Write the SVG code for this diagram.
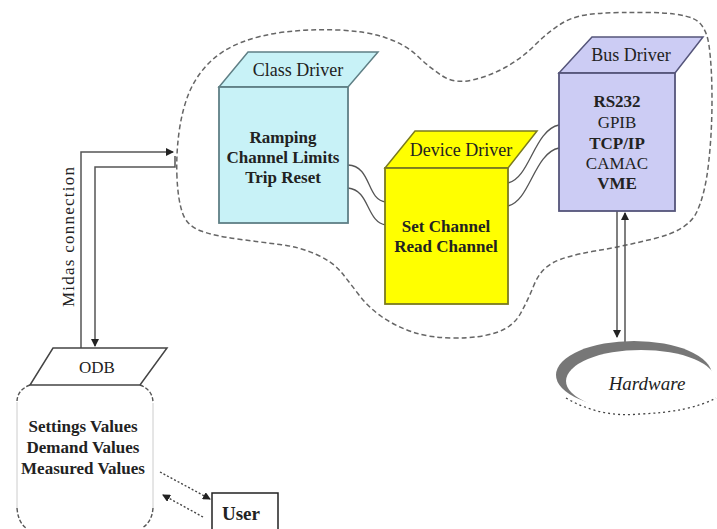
<svg xmlns="http://www.w3.org/2000/svg" width="717" height="529" viewBox="0 0 717 529">
<style>
text{font-family:"Liberation Serif","Times New Roman",serif;fill:#222;text-anchor:middle}
.t{font-size:18px}
.b{font-size:17px;font-weight:bold}
.r{font-size:17px}
.wire{fill:none;stroke:#555;stroke-width:1.5}
.cable{fill:none;stroke:#555;stroke-width:1.3}
.dot{fill:none;stroke:#444;stroke-width:1.4;stroke-dasharray:2,2}
</style>
<defs>
<marker id="ah" markerWidth="8" markerHeight="8" refX="7" refY="4" orient="auto" markerUnits="userSpaceOnUse">
<path d="M0,0 L8,4 L0,8 Z" fill="#222"/>
</marker>
</defs>
<rect width="717" height="529" fill="#fff"/>

<g id="boundary">
<path d="M177,177.5 Q176,155 179,132.5 Q182,110 189,93 Q196,76 209,63 Q222,50 241,42.5 Q260,35 285,32 Q310,29 337.5,30 Q365,31 385,37.5 Q405,44 417.5,56 Q430,68 442.5,76 Q455,84 472.5,80 Q490,76 506,67 Q522,58 535,45 Q548,32 561.5,23.5 Q575,15 597.5,13.5 Q620,12 650,12.5 Q680,13 693,18.5 Q706,24 709,45.5 Q712,67 712,100 Q712,133 708.5,164 Q705,195 696.5,212.5 Q688,230 656.5,238 Q625,246 595,251 Q565,256 552.5,263 Q540,270 534,285 Q528,300 520.5,313.5 Q513,327 496.5,332.5 Q480,338 455,338 Q430,338 412.5,332 Q395,326 381.5,316.5 Q368,307 359,295 Q350,283 341.5,272.5 Q333,262 316.5,254.5 Q300,247 280,244.5 Q260,242 237.5,239 Q215,236 201,231 Q187,226 182.5,213 Q178,200 177,177.5 Z" fill="none" stroke="#666" stroke-width="1.5" stroke-dasharray="5,3"/>
</g>

<g id="connectors">
<path class="cable" d="M348,165 C372,166 366,200 386,202"/>
<path class="cable" d="M348,188 C370,190 366,222 386,225"/>
<path class="cable" d="M508,183 C530,178 534,130 559,125"/>
<path class="cable" d="M508,206 C530,201 534,153 559,148"/>
<path class="wire" d="M81,348 L81,152 L173,152" marker-end="url(#ah)"/>
<path class="wire" d="M175,156 L175,167 L95,167 L95,346" marker-end="url(#ah)"/>
<path class="wire" d="M617,211 L617,337" marker-end="url(#ah)"/>
<path class="wire" d="M625,342 L625,213" marker-end="url(#ah)"/>
<path class="dot" d="M160,472 L210,499" marker-end="url(#ah)"/>
<path class="dot" d="M203,517 L163,495" marker-end="url(#ah)"/>
</g>

<g id="class-driver">
<polygon points="219,87 348,87 378,52 248,52" fill="#c8f2f7" stroke="#5f7f85" stroke-width="1.5"/>
<rect x="219" y="87" width="129" height="136" fill="#c8f2f7" stroke="#5f7f85" stroke-width="1.8"/>
<text class="t" x="298" y="76">Class Driver</text>
<text class="b" x="283" y="143">Ramping</text>
<text class="b" x="283" y="163">Channel Limits</text>
<text class="b" x="283" y="183">Trip Reset</text>
</g>

<g id="device-driver">
<polygon points="385,168 508,168 537,131 415,131" fill="#ffff00" stroke="#7a7a20" stroke-width="1.5"/>
<rect x="385" y="168" width="123" height="136" fill="#ffff00" stroke="#7a7a20" stroke-width="1.8"/>
<text class="t" x="461" y="156">Device Driver</text>
<text class="b" x="446" y="232">Set Channel</text>
<text class="b" x="446" y="252">Read Channel</text>
</g>

<g id="bus-driver">
<polygon points="559,73 675,73 703,37 592,37" fill="#ccccf4" stroke="#55557a" stroke-width="1.5"/>
<rect x="559" y="73" width="116" height="138" fill="#ccccf4" stroke="#55557a" stroke-width="1.8"/>
<text class="t" x="631" y="61">Bus Driver</text>
<text class="b" x="617" y="107">RS232</text>
<text class="r" x="617" y="128">GPIB</text>
<text class="b" x="617" y="149">TCP/IP</text>
<text class="r" x="617" y="169">CAMAC</text>
<text class="b" x="617" y="189">VME</text>
</g>

<g id="midas-label">
<text class="r" x="0" y="0" transform="translate(74,237) rotate(-90)" textLength="140" lengthAdjust="spacing" fill="#333">Midas connection</text>
</g>

<g id="odb">
<path d="M17,402 L17,508" fill="none" stroke="#ccc" stroke-width="1"/>
<path d="M153,403 L153,508" fill="none" stroke="#ccc" stroke-width="1"/>
<path d="M30,385 Q17,390 17,402 M140,385 Q153,390 153,403 M17,508 Q18,522 26,528 M153,508 Q152,522 142,528" fill="none" stroke="#555" stroke-width="1.4" stroke-dasharray="4,2"/>
<polygon points="53,348 167,348 140,385 30,385" fill="#fff" stroke="#444" stroke-width="1.5"/>
<text class="r" x="97" y="373" fill="#333">ODB</text>
<text class="b" x="83" y="432">Settings Values</text>
<text class="b" x="83" y="453">Demand Values</text>
<text class="b" x="83" y="474">Measured Values</text>
</g>

<g id="user">
<path d="M212,531 L212,493 L278,493 L278,531" fill="#fff" stroke="#222" stroke-width="1.5"/>
<text x="241" y="520" style="font-size:19px;font-weight:bold">User</text>
</g>

<g id="hardware">
<ellipse cx="634" cy="375" rx="78" ry="34" fill="#777"/>
<ellipse cx="641" cy="381" rx="75" ry="31" fill="#fff"/>
<path d="M566,398 Q600,418 640,414 Q690,412 716,398" fill="none" stroke="#444" stroke-width="1.3" stroke-dasharray="2,3"/>
<text x="647" y="390" style="font-size:19px;font-style:italic">Hardware</text>
</g>
</svg>
